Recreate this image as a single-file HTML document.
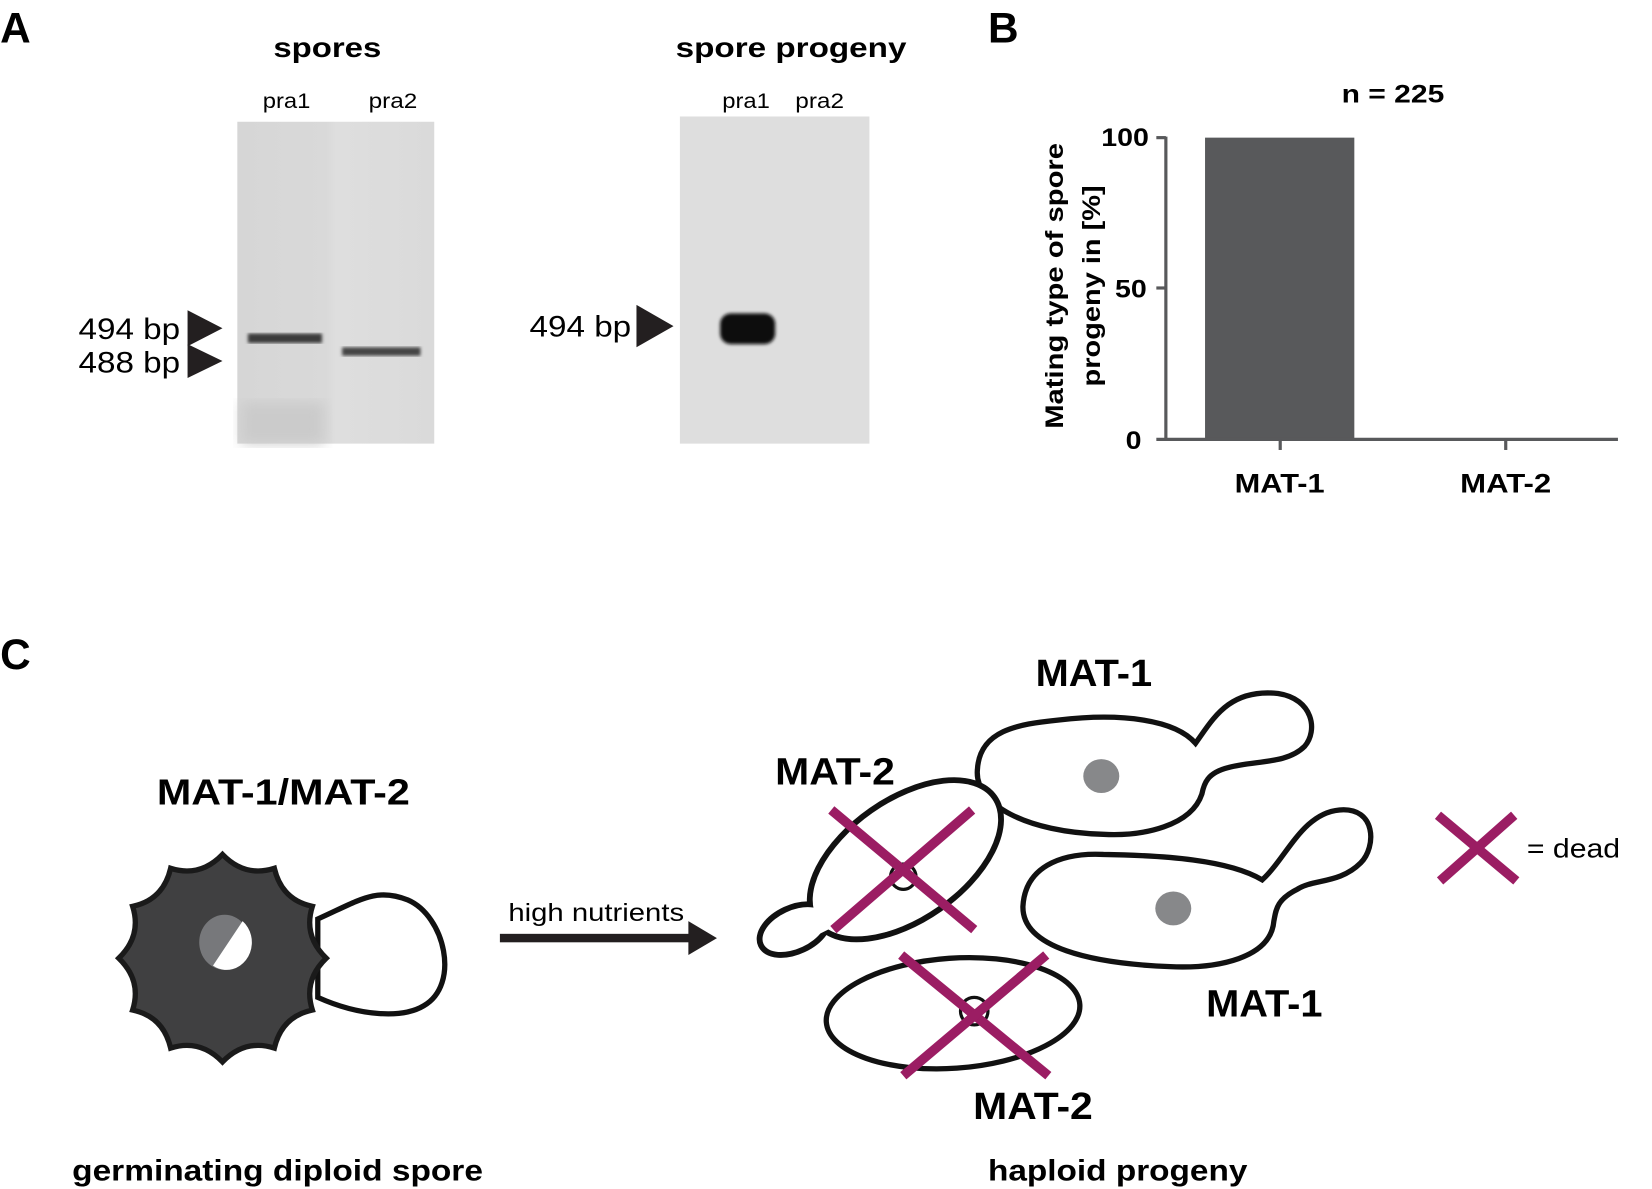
<!DOCTYPE html>
<html><head><meta charset="utf-8"><style>html,body{margin:0;padding:0;background:#fff}svg{display:block}</style></head>
<body>
<svg width="1652" height="1189" viewBox="0 0 1560 1123" xmlns="http://www.w3.org/2000/svg" font-family="Liberation Sans, sans-serif">
<defs>
<linearGradient id="g1" x1="0" x2="1"><stop offset="0" stop-color="#d6d6d6"/><stop offset="0.45" stop-color="#d9d9d9"/><stop offset="0.5" stop-color="#dedede"/><stop offset="1" stop-color="#dadada"/></linearGradient>
<filter id="bl"><feGaussianBlur stdDeviation="1.5"/></filter>
<filter id="bl2"><feGaussianBlur stdDeviation="6"/></filter>
</defs>
<!-- Panel A -->
<text x="0" y="40" font-size="40" font-weight="bold">A</text>
<text x="258" y="54" font-size="26" font-weight="bold" textLength="102" lengthAdjust="spacingAndGlyphs">spores</text>
<text x="248" y="102" font-size="20" textLength="45" lengthAdjust="spacingAndGlyphs">pra1</text>
<text x="348" y="102" font-size="20" textLength="46" lengthAdjust="spacingAndGlyphs">pra2</text>
<rect x="224" y="115" width="186" height="304" fill="url(#g1)"/>
<rect x="228" y="380" width="78" height="39" fill="#cbcbcb" filter="url(#bl2)"/>
<rect x="234" y="315" width="70" height="9" fill="#3a3a3a" filter="url(#bl)"/>
<rect x="323" y="328" width="74" height="8" fill="#444" filter="url(#bl)"/>
<polygon points="177,293 210,310 177,327" fill="#231f20"/>
<polygon points="177,325 210,341 177,357" fill="#231f20"/>
<text x="74" y="320" font-size="28" textLength="96" lengthAdjust="spacingAndGlyphs">494 bp</text>
<text x="74" y="352" font-size="28" textLength="96" lengthAdjust="spacingAndGlyphs">488 bp</text>

<text x="638" y="54" font-size="26" font-weight="bold" textLength="218" lengthAdjust="spacingAndGlyphs">spore progeny</text>
<text x="682" y="102" font-size="20" textLength="45" lengthAdjust="spacingAndGlyphs">pra1</text>
<text x="751" y="102" font-size="20" textLength="46" lengthAdjust="spacingAndGlyphs">pra2</text>
<rect x="642" y="110" width="179" height="309" fill="#dedede"/>
<rect x="680" y="296" width="52" height="29" rx="10" fill="#111" filter="url(#bl)"/>
<polygon points="601,288 636,308 601,328" fill="#231f20"/>
<text x="500" y="318" font-size="28" textLength="96" lengthAdjust="spacingAndGlyphs">494 bp</text>

<!-- Panel B -->
<text x="933" y="40" font-size="40" font-weight="bold">B</text>
<text x="1267" y="97" font-size="24" font-weight="bold" textLength="97" lengthAdjust="spacingAndGlyphs">n = 225</text>
<rect x="1138" y="130" width="141" height="285" fill="#58595b"/>
<g stroke="#58595b" stroke-width="3">
<line x1="1101" y1="129" x2="1101" y2="416"/>
<line x1="1092" y1="130" x2="1101" y2="130"/>
<line x1="1092" y1="272" x2="1101" y2="272"/>
<line x1="1092" y1="415" x2="1528" y2="415"/>
<line x1="1209" y1="415" x2="1209" y2="425"/>
<line x1="1422" y1="415" x2="1422" y2="425"/>
</g>
<g font-size="24" font-weight="bold">
<text x="1040" y="138" textLength="45" lengthAdjust="spacingAndGlyphs">100</text>
<text x="1053" y="281" textLength="30" lengthAdjust="spacingAndGlyphs">50</text>
<text x="1063" y="424" textLength="15" lengthAdjust="spacingAndGlyphs">0</text></g>
<text x="1166" y="465" font-size="25" font-weight="bold" textLength="85" lengthAdjust="spacingAndGlyphs">MAT-1</text>
<text x="1379" y="465" font-size="25" font-weight="bold" textLength="86" lengthAdjust="spacingAndGlyphs">MAT-2</text>
<g font-size="24" font-weight="bold">
<text transform="translate(1004,405) rotate(-90)" textLength="270" lengthAdjust="spacingAndGlyphs">Mating type of spore</text>
<text transform="translate(1039,365) rotate(-90)" textLength="190" lengthAdjust="spacingAndGlyphs">progeny in [%]</text></g>

<!-- Panel C -->
<text x="0" y="632" font-size="40" font-weight="bold">C</text>
<text x="148" y="760" font-size="34" font-weight="bold" textLength="239" lengthAdjust="spacingAndGlyphs">MAT-1/MAT-2</text>
<path d="M300,868 C340,850 355,838 385,850 C420,865 435,930 400,950 C380,962 340,960 300,942 Z" fill="#fff" stroke="#111" stroke-width="5"/>
<path d="M308,905 Q286,926.2 294.9,954 Q266,960 259,989.9 Q231.2,981 210,1003 Q188.8,981 161,989.9 Q154,960 125.1,954 Q134,926.2 112,905 Q134,883.8 125.1,856 Q154,850 161,820.1 Q188.8,829 210,807 Q231.2,829 259,820.1 Q266,850 294.9,856 Q286,883.8 308,905 Z" fill="#404041" stroke="#1a1a1a" stroke-width="5"/>
<ellipse cx="212" cy="890" rx="24" ry="26" fill="#77787b"/>
<path d="M229,870 A24,26 0 0 1 212,916 A24,26 0 0 1 201,912 Z" fill="#fff"/>
<text x="480" y="870" font-size="24" textLength="166" lengthAdjust="spacingAndGlyphs">high nutrients</text>
<rect x="472" y="882" width="180" height="8" fill="#231f20"/>
<polygon points="650,870 677,886 650,902" fill="#231f20"/>

<!-- cells -->
<g stroke="#111" stroke-width="5" fill="#fff">
<path d="M1129,702 C1145,680 1160,650 1207,655 C1240,660 1245,690 1232,705 C1215,722 1185,718 1160,725 C1140,730 1137,740 1135,750 C1125,780 1080,790 1042,788 C970,786 920,760 923,727 C925,690 960,684 1000,680 C1060,673 1110,680 1129,702 Z"/>
<path d="M1192,831 C1215,810 1230,768 1265,765 C1300,762 1300,800 1285,815 C1265,835 1240,830 1225,840 C1205,850 1205,860 1203,870 C1200,905 1150,915 1105,913 C1030,910 965,895 966,856 C968,820 1000,805 1042,807 C1100,808 1160,812 1192,831 Z"/>
</g>
<g>
<g stroke="#111" stroke-width="11" fill="none">
<ellipse cx="855" cy="812" rx="100" ry="54" transform="rotate(-35 855 812)"/>
<ellipse cx="750" cy="878" rx="32" ry="18" transform="rotate(-25 750 878)"/>
</g>
<g fill="#fff">
<polygon points="765,866 780,857 786,876 772,883"/>
<ellipse cx="855" cy="812" rx="100" ry="54" transform="rotate(-35 855 812)"/>
<ellipse cx="750" cy="878" rx="32" ry="18" transform="rotate(-25 750 878)"/>
</g>
</g>
<ellipse cx="900" cy="957" rx="120" ry="52" transform="rotate(-4 900 957)" fill="#fff" stroke="#111" stroke-width="5"/>
<ellipse cx="1040" cy="733" rx="17" ry="16" fill="#87888a"/>
<ellipse cx="1108" cy="858" rx="17" ry="16" fill="#87888a"/>
<circle cx="853" cy="828" r="12" fill="none" stroke="#111" stroke-width="3"/>
<circle cx="920" cy="955" r="13" fill="none" stroke="#111" stroke-width="3"/>
<g stroke="#9b1d63" stroke-width="9">
<line x1="785" y1="765" x2="920" y2="878"/><line x1="918" y1="765" x2="787" y2="878"/>
<line x1="851" y1="902" x2="990" y2="1016"/><line x1="988" y1="902" x2="853" y2="1016"/>
<line x1="1358" y1="770" x2="1432" y2="832"/><line x1="1430" y1="770" x2="1360" y2="832"/>
</g>
<g font-size="36" font-weight="bold">
<text x="978" y="648" textLength="110" lengthAdjust="spacingAndGlyphs">MAT-1</text>
<text x="732" y="741" textLength="113" lengthAdjust="spacingAndGlyphs">MAT-2</text>
<text x="1139" y="960" textLength="110" lengthAdjust="spacingAndGlyphs">MAT-1</text>
<text x="919" y="1057" textLength="113" lengthAdjust="spacingAndGlyphs">MAT-2</text></g>
<text x="1442" y="810" font-size="25" textLength="88" lengthAdjust="spacingAndGlyphs">= dead</text>
<text x="68" y="1115" font-size="28" font-weight="bold" textLength="388" lengthAdjust="spacingAndGlyphs">germinating diploid spore</text>
<text x="933" y="1115" font-size="28" font-weight="bold" textLength="245" lengthAdjust="spacingAndGlyphs">haploid progeny</text>
</svg>
</body></html>
